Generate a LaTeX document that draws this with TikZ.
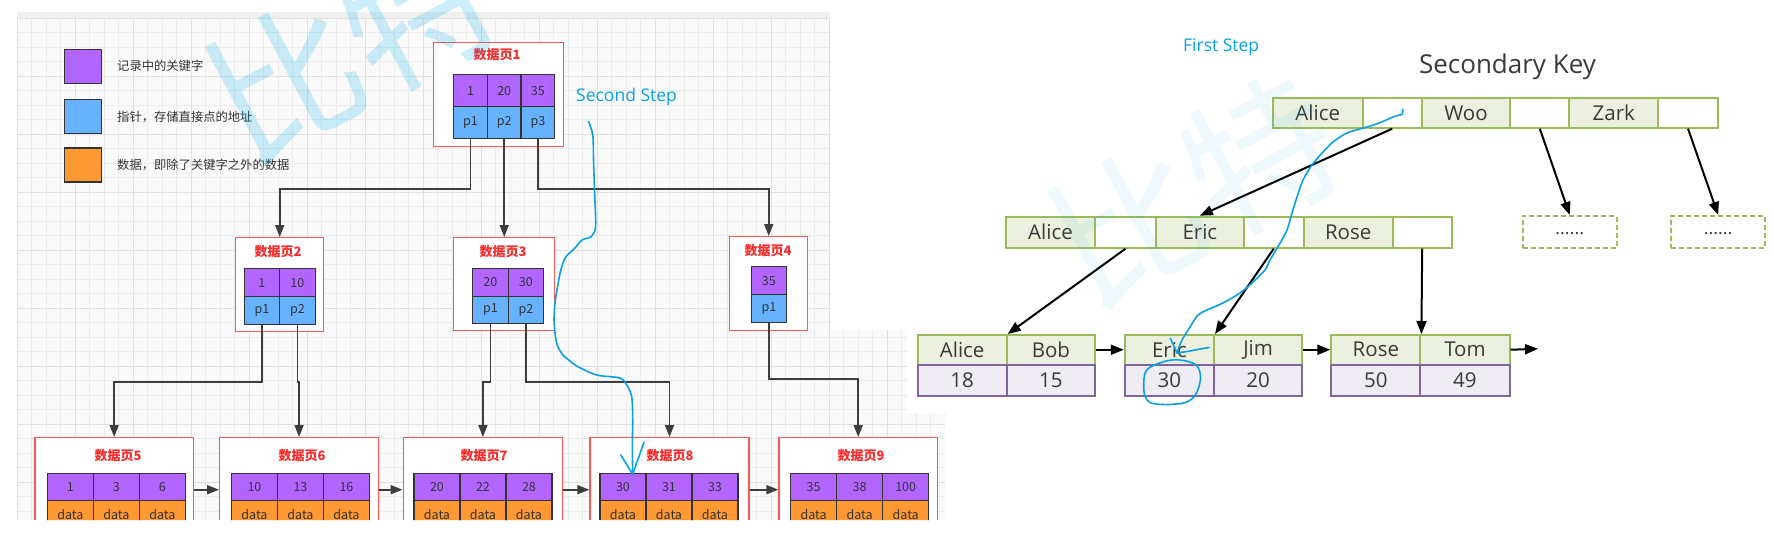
\documentclass[tikz,border=0pt]{standalone}
\usepackage{fontspec}
\setmainfont{Open Sans}
\newfontfamily\cjk{Noto Sans CJK SC}
\usetikzlibrary{arrows.meta}
\definecolor{kpur}{HTML}{B266FF}
\definecolor{kblu}{HTML}{66B2FF}
\definecolor{kora}{HTML}{FF9933}
\definecolor{pgred}{HTML}{FF5555}
\definecolor{ttred}{HTML}{FF2A2A}
\definecolor{dk}{HTML}{333333}
\definecolor{hand}{HTML}{0AA0E6}
\definecolor{grn}{HTML}{9BBB59}
\definecolor{grnf}{HTML}{EBF1DE}
\definecolor{pur}{HTML}{8064A2}
\definecolor{purf}{HTML}{EFECF4}
\definecolor{gridc}{HTML}{ECECEC}
\definecolor{gridm}{HTML}{E0E0E0}
\definecolor{txt}{HTML}{3A3A3A}
\definecolor{wm}{HTML}{00AEEF}
\begin{document}
\begin{tikzpicture}[x=1pt,y=-1pt,
  pagebox/.style={draw=pgred,line width=1.4pt,fill=white,inner sep=0pt},
  pgtitle/.style={font=\cjk\bfseries\fontsize{13}{13}\selectfont,text=ttred,inner sep=0pt},
  cellbase/.style={draw=dk,line width=1.3pt,inner sep=0pt,text=dk,anchor=north west,font=\cjk\fontsize{12.5}{12.5}\selectfont},
  kcell/.style={cellbase,fill=kpur},
  pcell/.style={cellbase,fill=kblu},
  dcell/.style={cellbase,fill=kora},
  legtxt/.style={font=\cjk\fontsize{12.3}{12.3}\selectfont,text=dk,inner sep=0pt,anchor=west},
  larrow/.style={draw=dk!95,line width=1.7pt,-{Triangle[length=12pt,width=9pt]}},
  gbase/.style={line width=2pt,inner sep=0pt,anchor=north west,text=txt,font=\fontsize{20.5}{20.5}\selectfont},
  gk/.style={gbase,draw=grn,fill=grnf},
  gp/.style={gbase,draw=grn,fill=white},
  pv/.style={gbase,draw=pur,fill=purf},
  dbox/.style={gbase,draw=grn,fill=white,dash pattern=on 5pt off 3pt,font=\fontsize{18}{18}\selectfont},
  rarrow/.style={draw=black,line width=2pt,-{Triangle[length=13pt,width=10pt]}},
  handline/.style={draw=hand,line width=1.6pt,line cap=round,line join=round},
  steptxt/.style={font=\fontsize{17.5}{17.5}\selectfont,text=hand,inner sep=0pt,anchor=base west},
  wmtxt/.style={font=\cjk\fontsize{150}{150}\selectfont,text=wm,rotate=28,inner sep=0pt}
]
\useasboundingbox (0,0) rectangle (1774,540);
\fill[white] (0,0) rectangle (1774,540);

% ---------------- left diagram ----------------
\begin{scope}
\clip (17,12) -- (830,12) -- (830,330) -- (907,330) -- (907,413) -- (945,413) -- (945,520) -- (17,520) -- cycle;
\fill[white!98!black] (17,12) rectangle (945,520);
\foreach \gx in {17,31.5,...,946} \draw[gridc,line width=0.6pt] (\gx,12) -- (\gx,520);
\foreach \gy in {18,32.5,...,521} \draw[gridc,line width=0.6pt] (17,\gy) -- (945,\gy);
\foreach \gx in {17,75,...,946} \draw[gridm,line width=0.9pt] (\gx,12) -- (\gx,520);
\foreach \gy in {18,76,...,521} \draw[gridm,line width=0.9pt] (17,\gy) -- (945,\gy);
\fill[black!6] (17,12) rectangle (945,18);

% legend
\node[kcell,minimum width=37,minimum height=34] (lg1) at (64,49) {};
\node[pcell,minimum width=37,minimum height=34] (lg2) at (64,99) {};
\node[dcell,minimum width=37,minimum height=34] (lg3) at (64,147.5) {};
\node[legtxt] (lt1) at (117,66) {记录中的关键字};
\node[legtxt] (lt2) at (117,117) {指针，存储直接点的地址};
\node[legtxt] (lt3) at (117,164.5) {数据，即除了关键字之外的数据};

% page 1
\node[pagebox,anchor=north west,minimum width=130,minimum height=104] (pg1) at (433,42) {};
\node[pgtitle] (pgt1) at (497,55) {数据页1};
\foreach \v [count=\i] in {1,20,35} \node[kcell,minimum width=33.7,minimum height=32] (a1k\i) at ({453+(\i-1)*33.7},74) {\v};
\foreach \v [count=\i] in {p1,p2,p3} \node[pcell,minimum width=33.7,minimum height=32] (a1p\i) at ({453+(\i-1)*33.7},106) {\v};

% page 2
\node[pagebox,anchor=north west,minimum width=88,minimum height=94] (pg2) at (235,237) {};
\node[pgtitle] (pgt2) at (278,252) {数据页2};
\foreach \v [count=\i] in {1,10} \node[kcell,minimum width=35.5,minimum height=28] (a2k\i) at ({243.5+(\i-1)*35.5},268) {\v};
\foreach \v [count=\i] in {p1,p2} \node[pcell,minimum width=35.5,minimum height=28] (a2p\i) at ({243.5+(\i-1)*35.5},296) {\v};

% page 3
\node[pagebox,anchor=north west,minimum width=101,minimum height=93] (pg3) at (453,237) {};
\node[pgtitle] (pgt3) at (503,252) {数据页3};
\foreach \v [count=\i] in {20,30} \node[kcell,minimum width=35.5,minimum height=27.5] (a3k\i) at ({472+(\i-1)*35.5},268) {\v};
\foreach \v [count=\i] in {p1,p2} \node[pcell,minimum width=35.5,minimum height=27.5] (a3p\i) at ({472+(\i-1)*35.5},295.5) {\v};

% page 4
\node[pagebox,anchor=north west,minimum width=78,minimum height=94] (pg4) at (729,236) {};
\node[pgtitle] (pgt4) at (768,251) {数据页4};
\node[kcell,minimum width=34.5,minimum height=28] (a4k1) at (751,266) {35};
\node[pcell,minimum width=34.5,minimum height=28] (a4p1) at (751,294) {p1};

% bottom pages
\foreach \nm/\bl/\bw/\tx/\tl/\va/\vb/\vc in {5/34.4/158.1/118/46.7/1/3/6, 6/219/158.7/302/230.8/10/13/16, 7/402.6/159.2/484/413.3/20/22/28, 8/589.3/159/670/599.3/30/31/33, 9/778.3/158.4/861/790/35/38/100}{
  \node[pagebox,anchor=north west,minimum width=\bw,minimum height=104] (pg\nm) at (\bl,437) {};
  \node[pgtitle] (pgt\nm) at (\tx,455.5) {数据页\nm};
  \node[kcell,minimum width=46,minimum height=27] (b\nm k1) at (\tl,473) {\va};
  \node[kcell,minimum width=46,minimum height=27] (b\nm k2) at ({\tl+46},473) {\vb};
  \node[kcell,minimum width=46,minimum height=27] (b\nm k3) at ({\tl+92},473) {\vc};
  \foreach \j in {1,2,3} \node[dcell,minimum width=46,minimum height=27] (b\nm d\j) at ({\tl+(\j-1)*46},500) {data};
}

% connectors
\draw[larrow] (a1p1.south) -- ++(0,50) -| (pg2.north);
\draw[larrow] (a1p2.south) -- (a1p2.south |- pg3.north);
\draw[larrow] (a1p3.south) -- ++(0,50) -| (pg4.north);
\draw[larrow] (a2p1.south) -- ++(0,57) -| (pg5.north);
\draw[larrow] (a2p2.south) -- ++(0,57) -| (pg6.north);
\draw[larrow] (a3p1.south) -- ++(0,57.5) -| (pg7.north);
\draw[larrow] (a3p2.south) -- ++(0,57.5) -| (pg8.north);
\draw[larrow] (a4p1.south) -- ++(0,56) -| (pg9.north);
\draw[larrow] (pg5.east) -- (pg6.west);
\draw[larrow] (pg6.east) -- (pg7.west);
\draw[larrow] (pg7.east) -- (pg8.west);
\draw[larrow] (pg8.east) -- (pg9.west);
\end{scope}

% ---------------- right diagram ----------------
\node[font=\fontsize{26}{26}\selectfont,text=txt,inner sep=0pt,anchor=base] (sk) at (1507.5,74) {Secondary Key};

\node[gk,minimum width=90,minimum height=29.4] (rA) at (1271.7,97.3) {Alice};
\node[gp,minimum width=59,minimum height=29.4] (rAp) at (1361.7,97.3) {};
\node[gk,minimum width=88.6,minimum height=29.4] (rW) at (1420.7,97.3) {Woo};
\node[gp,minimum width=59,minimum height=29.4] (rWp) at (1509.3,97.3) {};
\node[gk,minimum width=89,minimum height=29.4] (rZ) at (1568.3,97.3) {Zark};
\node[gp,minimum width=59.4,minimum height=29.4] (rZp) at (1657.3,97.3) {};

\node[gk,minimum width=89,minimum height=31] (mA) at (1005,215.7) {Alice};
\node[gp,minimum width=61,minimum height=31] (mAp) at (1094,215.7) {};
\node[gk,minimum width=87.7,minimum height=31] (mE) at (1155,215.7) {Eric};
\node[gp,minimum width=60,minimum height=31] (mEp) at (1242.7,215.7) {};
\node[gk,minimum width=89,minimum height=31] (mR) at (1302.7,215.7) {Rose};
\node[gp,minimum width=59,minimum height=31] (mRp) at (1391.7,215.7) {};

\node[dbox,minimum width=94,minimum height=31.7] (d1) at (1521.7,215) {\raisebox{-5pt}{......}};
\node[dbox,minimum width=94.3,minimum height=31.7] (d2) at (1670,215) {\raisebox{-5pt}{......}};

\node[gk,minimum width=89.1,minimum height=29.5] (l1a) at (916.6,334) {Alice};
\node[gk,minimum width=88.3,minimum height=29.5] (l1b) at (1005.7,334) {Bob};
\node[pv,minimum width=89.1,minimum height=31.5] (l1c) at (916.6,363.5) {18};
\node[pv,minimum width=88.3,minimum height=31.5] (l1d) at (1005.7,363.5) {15};
\node[gk,minimum width=89.2,minimum height=29.5] (l2a) at (1123.8,334) {Eric};
\node[gk,minimum width=88.2,minimum height=29.5] (l2b) at (1213,334) {Jim};
\node[pv,minimum width=89.2,minimum height=31.5] (l2c) at (1123.8,363.5) {30};
\node[pv,minimum width=88.2,minimum height=31.5] (l2d) at (1213,363.5) {20};
\node[gk,minimum width=89.1,minimum height=29.5] (l3a) at (1330.3,334) {Rose};
\node[gk,minimum width=89.1,minimum height=29.5] (l3b) at (1419.4,334) {Tom};
\node[pv,minimum width=89.1,minimum height=31.5] (l3c) at (1330.3,363.5) {50};
\node[pv,minimum width=89.1,minimum height=31.5] (l3d) at (1419.4,363.5) {49};
\coordinate (lend) at (1538,348.75);

\draw[rarrow] (rAp.south) -- (mE.north);
\draw[rarrow] (rWp.south) -- (d1.north);
\draw[rarrow] (rZp.south) -- (d2.north);
\draw[rarrow] (mAp.south) -- (l1a.north east);
\draw[rarrow] (mEp.south) -- (l2a.north east);
\draw[rarrow] (mRp.south) -- (l3a.north east);
\draw[rarrow] (l1b.east) -- (l2a.west);
\draw[rarrow] (l2b.east) -- (l3a.west);
\draw[rarrow] (l3b.east) -- (lend);

% ---------------- watermarks ----------------
\node[wmtxt,text opacity=0.2] (wm1) at (352,46) {比特};
\node[wmtxt,text opacity=0.07] (wm2) at (1195,190) {比特};

% ---------------- hand-drawn annotations ----------------
\node[steptxt] (fs) at (1183,51.7) {First Step};
\node[steptxt] (ss) at (576,101.5) {Second Step};

\draw[handline] plot[smooth,tension=0.5] coordinates {(588.5,121.7) (592.8,135) (593.5,160) (594.6,193) (595.6,226.7) (591,236.7) (582,240) (575,248) (566,256.7) (562,266) (559.5,276) (557,290) (555,303) (554,320) (555.5,337) (558,347) (563,355) (570,361) (578,366.7) (596.7,375) (620,378) (626.7,385) (631.7,396.7) (632.7,420) (632.3,446.7) (632.7,474)};
\draw[handline] (620.7,455) -- (632.7,474) -- (644,442.3);

\draw[handline] plot[smooth,tension=0.5] coordinates {(1402.3,109.3) (1402.3,114) (1393,117) (1380,122.7) (1367,127) (1347,133) (1333,142) (1323,152) (1312,165) (1303,180) (1297,197) (1292,213) (1287,230) (1279,245) (1273,255) (1269,262) (1265,270) (1252,283) (1240,293) (1223,303) (1207,310) (1198,315) (1190,327) (1182,340) (1177,353)};
\draw[handline] (1170.3,338.3) -- (1177,353);
\draw[handline] plot[smooth,tension=0.5] coordinates {(1177,353) (1190,351) (1200,349) (1209,347.5)};
\draw[handline] plot[smooth cycle,tension=0.6] coordinates {(1157,364) (1146,371) (1143.7,385) (1145,396) (1150,402.5) (1162,404.5) (1176,404) (1187,402) (1196,394) (1200.5,378) (1197,366) (1186,361) (1172,360)};
\end{tikzpicture}
\end{document}
